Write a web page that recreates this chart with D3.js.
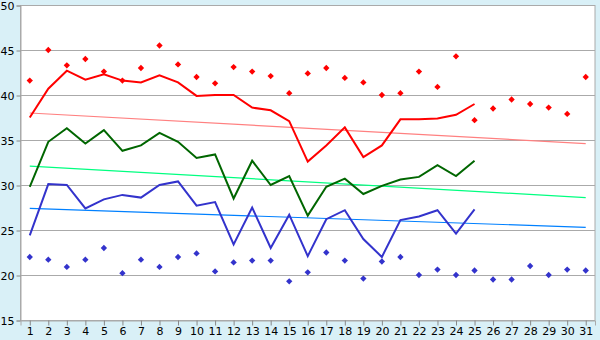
<!DOCTYPE html>
<html>
<head>
<meta charset="utf-8">
<script src="https://cdn.jsdelivr.net/npm/d3@7"></script>
<style>
  body { margin: 0; background: #d9f0f7; }
  svg { display: block; }
  text { font-family: "DejaVu Sans", Verdana, sans-serif; font-size: 11px; fill: #000; }
</style>
</head>
<body>
<svg id="chart" width="600" height="340"></svg>
<script>
// days of the month
const days = d3.range(1, 32);

// daily max (red diamonds)
const maxPts = [41.6, 45.0, 43.3, 44.0, 42.6, 41.6, 43.0, 45.5, 43.4, 42.0,
                41.3, 43.1, 42.6, 42.1, 40.2, 42.4, 43.0, 41.9, 41.4, 40.0,
                40.2, 42.6, 40.9, 44.3, 37.2, 38.5, 39.5, 39.0, 38.6, 37.9, 42.0];

// upper line (red), days 1-25
const upper = [37.5, 40.7, 42.7, 41.7, 42.3, 41.6, 41.4, 42.2, 41.4, 39.9,
               40.0, 40.0, 38.6, 38.3, 37.1, 32.6, 34.4, 36.4, 33.1, 34.4,
               37.3, 37.3, 37.4, 37.8, 39.0];

// middle line (green)
const middle = [29.8, 34.8, 36.3, 34.6, 36.1, 33.8, 34.4, 35.8, 34.8, 33.0,
                33.4, 28.5, 32.7, 30.0, 31.0, 26.6, 29.8, 30.7, 29.0, 29.9,
                30.6, 30.9, 32.2, 31.0, 32.7];

// lower line (blue)
const lower = [24.4, 30.1, 30.0, 27.4, 28.4, 28.9, 28.6, 30.0, 30.4, 27.7,
               28.1, 23.4, 27.5, 23.0, 26.7, 22.1, 26.2, 27.2, 24.0, 22.0,
               26.1, 26.5, 27.2, 24.6, 27.3];

// daily min (blue diamonds)
const minPts = [22.0, 21.7, 20.9, 21.7, 23.0, 20.2, 21.7, 20.9, 22.0, 22.4,
                20.4, 21.4, 21.6, 21.6, 19.3, 20.3, 22.5, 21.6, 19.6, 21.5,
                22.0, 20.0, 20.6, 20.0, 20.5, 19.5, 19.5, 21.0, 20.0, 20.6, 20.5];

// trend lines: [value at day 1, value at day 31]
const trendUpper = [38.0, 34.6];
const trendMiddle = [32.1, 28.6];
const trendLower = [27.4, 25.3];

const yTicks = [15, 20, 25, 30, 35, 40, 45, 50];

const svg = d3.select("#chart");
const mLeft = 20.5, mRight = 595, mTop = 5, mBottom = 320;

// white plot area
svg.append("rect")
  .attr("x", mLeft).attr("y", mTop)
  .attr("width", mRight - mLeft).attr("height", mBottom - mTop)
  .attr("fill", "#fff");

const x = d3.scalePoint().domain(days).range([mLeft, mRight]).padding(0.5);
const y = d3.scaleLinear().domain([15, 50]).range([mBottom, mTop]);

// grid
svg.append("g").selectAll("line").data(yTicks).join("line")
  .attr("x1", mLeft).attr("x2", mRight)
  .attr("y1", d => Math.round(y(d)) + 0.5).attr("y2", d => Math.round(y(d)) + 0.5)
  .attr("stroke", "#aaa");

// frame
svg.append("rect")
  .attr("x", mLeft).attr("y", mTop + 0.5)
  .attr("width", mRight - mLeft).attr("height", mBottom - mTop)
  .attr("fill", "none").attr("stroke", "#aaa");

// axes
const yAxis = svg.append("g")
  .attr("transform", `translate(${mLeft},0.5)`)
  .call(d3.axisLeft(y).tickValues(yTicks).tickSize(4).tickPadding(2));
const xAxis = svg.append("g")
  .attr("transform", `translate(0,${mBottom + 0.5})`)
  .call(d3.axisBottom(x).tickSize(5).tickPadding(2));
[yAxis, xAxis].forEach(a => {
  a.select(".domain").attr("stroke", "#aaa");
  a.selectAll(".tick line").attr("stroke", "#888");
  a.selectAll("text").style("font-size", "11px").attr("fill", "#000");
});

// trend lines
function trend(t, color) {
  svg.append("line")
    .attr("x1", x(1)).attr("y1", y(t[0]))
    .attr("x2", x(31)).attr("y2", y(t[1]))
    .attr("stroke", color).attr("stroke-width", 1.2);
}
trend(trendUpper, "#ff8080");
trend(trendMiddle, "#00ff80");
trend(trendLower, "#0080ff");

// series lines
const line = d3.line().x((d, i) => x(days[i])).y(d => y(d));
function series(vals, color) {
  svg.append("path").datum(vals)
    .attr("d", line)
    .attr("fill", "none").attr("stroke", color)
    .attr("stroke-width", 2).attr("stroke-linejoin", "miter");
}
series(upper, "#ff0000");
series(middle, "#006600");
series(lower, "#3333cc");

// diamonds (square turned 45deg)
const diamond = d3.symbol().type(d3.symbolSquare).size(20);
function dots(vals, color) {
  svg.append("g").selectAll("path").data(vals).join("path")
    .attr("d", diamond)
    .attr("transform", (d, i) => `translate(${x(days[i])},${y(d)}) rotate(45)`)
    .attr("fill", color);
}
dots(maxPts, "#ff0000");
dots(minPts, "#3333cc");
</script>
</body>
</html>
